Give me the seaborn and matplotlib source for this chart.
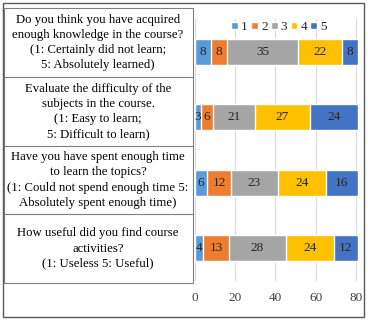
import numpy as np
import pandas as pd
import matplotlib
matplotlib.use('Agg')
import matplotlib.pyplot as plt
import seaborn as sns
from matplotlib.patches import Patch, Rectangle
from matplotlib.lines import Line2D

## data
questions = ['Q1', 'Q2', 'Q3', 'Q4']
question_text = [
    'Do you think you have acquired\nenough knowledge in the course?\n(1: Certainly did not learn;\n5: Absolutely learned)',
    'Evaluate the difficulty of the\nsubjects in the course.\n(1: Easy to learn;\n5: Difficult to learn)',
    'Have you have spent enough time\nto learn the topics?\n(1: Could not spend enough time 5:\nAbsolutely spent enough time)',
    'How useful did you find course\nactivities?\n(1: Useless 5: Useful)',
]
levels = ['1', '2', '3', '4', '5']
score_1 = [8, 3, 6, 4]
score_2 = [8, 6, 12, 13]
score_3 = [35, 21, 23, 28]
score_4 = [22, 27, 24, 24]
score_5 = [8, 24, 16, 12]
colours = ['#5B9BD5', '#ED7D31', '#A5A5A5', '#FFC000', '#4472C4']

df = pd.DataFrame({'question': questions, '1': score_1, '2': score_2,
                   '3': score_3, '4': score_4, '5': score_5})
cum = df[levels].cumsum(axis=1)

sns.set_theme(style='white')
plt.rcParams['font.family'] = ['Liberation Serif', 'DejaVu Serif']

W, H = 368, 321
fig = plt.figure(figsize=(W / 100, H / 100), dpi=100)
ax = fig.add_axes([195 / W, 1 - 281 / H, 163 / W, 262 / H])

## stacked bars: draw cumulative totals from the top level down
for i in range(len(levels) - 1, -1, -1):
    lev = levels[i]
    sns.barplot(x=cum[lev], y=df['question'], orient='h', color=colours[i],
                width=0.4, saturation=1, ax=ax, order=questions)

## segment labels
for row in range(len(df)):
    for i, lev in enumerate(levels):
        val = df.loc[row, lev]
        centre = cum.loc[row, lev] - val / 2
        ax.text(centre, row, str(val), ha='center', va='center',
                fontsize=9.5, color='#262626')

ax.set_xlim(0, 81)
ax.set_ylim(3.5, -0.5)
ax.set_xticks([0, 20, 40, 60, 80])
ax.set_yticks([])
ax.set_xlabel('')
ax.set_ylabel('')
ax.grid(axis='x', color='#d9d9d9', linewidth=0.8)
ax.set_axisbelow(True)
for s in ax.spines.values():
    s.set_visible(False)
ax.tick_params(axis='x', length=0, labelsize=9.5, labelcolor='#404040', pad=8)

## legend
handles = [Patch(facecolor=c, label=l) for c, l in zip(colours, levels)]
fig.legend(handles=handles, loc='center', bbox_to_anchor=(279 / W, 1 - 27 / H),
           ncol=5, frameon=False, fontsize=9.5, handlelength=0.5,
           handleheight=0.5, handletextpad=0.25, columnspacing=0.25,
           borderpad=0, borderaxespad=0)

## question table on the left
row_lines = [8, 77, 146, 214, 283]
fig.add_artist(Rectangle((4 / W, 1 - 283 / H), 189 / W, 275 / H, transform=fig.transFigure,
                         fill=False, edgecolor='#7f7f7f', linewidth=0.8))
for y in row_lines[1:-1]:
    fig.add_artist(Line2D([4 / W, 193 / W], [1 - y / H, 1 - y / H],
                          transform=fig.transFigure, color='#7f7f7f', linewidth=0.8))
for k, txt in enumerate(question_text):
    yc = (row_lines[k] + row_lines[k + 1]) / 2
    fig.text(98 / W, 1 - yc / H, txt, ha='center', va='center',
             fontsize=9.2, linespacing=1.36, color='black')

## outer frame
fig.add_artist(Rectangle((3 / W, 1 - 317 / H), 361 / W, 314 / H, transform=fig.transFigure,
                         fill=False, edgecolor='#595959', linewidth=1.0))

fig.savefig('out.png', dpi=100)
